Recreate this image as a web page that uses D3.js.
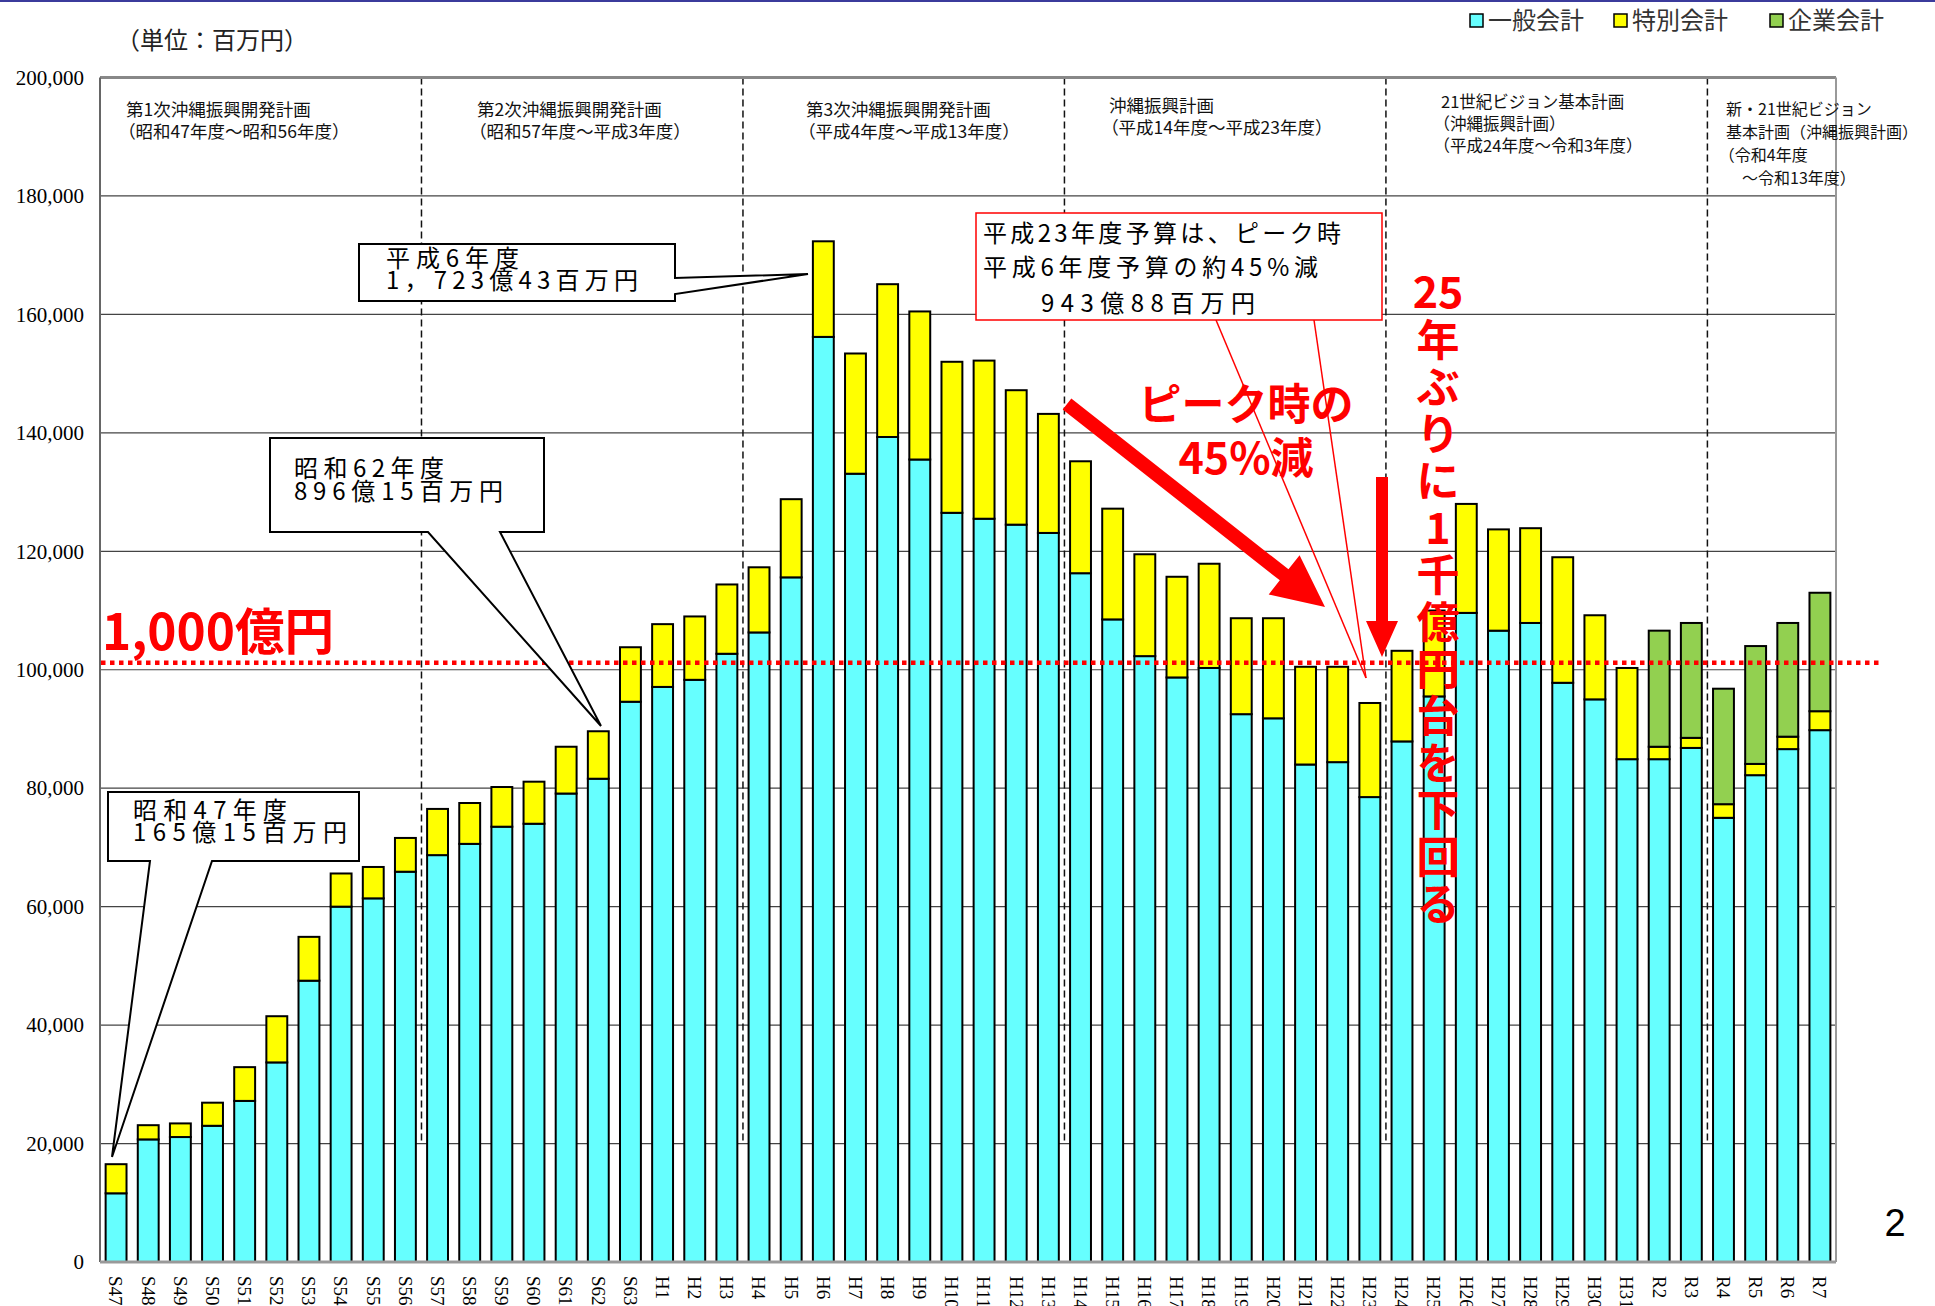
<!DOCTYPE html>
<html>
<head>
<meta charset="utf-8">
<script src="https://cdn.jsdelivr.net/npm/d3@7/dist/d3.min.js"></script>
<style>
  body { margin: 0; background: #fff; }
  svg { display: block; font-family: "Noto Sans CJK JP", sans-serif; }
</style>
</head>
<body>
<svg id="chart" width="1935" height="1306"></svg>
<script>
// fiscal years (昭和 S / 平成 H / 令和 R)
var years = ['S47','S48','S49','S50','S51','S52','S53','S54','S55','S56','S57','S58','S59','S60','S61','S62','S63',
  'H1','H2','H3','H4','H5','H6','H7','H8','H9','H10','H11','H12','H13','H14','H15','H16','H17','H18','H19','H20',
  'H21','H22','H23','H24','H25','H26','H27','H28','H29','H30','H31',
  'R2','R3','R4','R5','R6','R7'];

// 一般会計 (百万円)
var general = [11600,20700,21100,23000,27200,33700,47500,60000,61400,65900,68700,70600,73500,74000,79100,81600,94600,
  97100,98300,102700,106300,115600,156200,133100,139300,135500,126500,125500,124500,123100,116300,108500,102300,98700,100300,92500,91800,
  84000,84400,78500,87900,95500,109600,106600,107900,97800,95000,84900,
  84900,86800,75000,82200,86600,89800];

// 特別会計 (百万円)
var special = [4915,2400,2300,3900,5700,7800,7400,5600,5300,5700,7800,6900,6700,7100,7900,8015,9200,
  10600,10700,11700,11000,13200,16143,20300,25800,25000,25500,26700,22700,20100,18900,18700,17200,17000,17600,16200,16900,
  16500,16100,15888,15300,14500,18400,17100,16000,21200,14200,15400,
  2100,1700,2300,1900,2100,3200];

// 企業会計 (百万円)
var enterprise = [0,0,0,0,0,0,0,0,0,0,0,0,0,0,0,0,0,
  0,0,0,0,0,0,0,0,0,0,0,0,0,0,0,0,0,0,0,0,
  0,0,0,0,0,0,0,0,0,0,0,
  19600,19400,19500,19900,19200,20000];

var yTicks = [0,20000,40000,60000,80000,100000,120000,140000,160000,180000,200000];
var seriesNames = ['一般会計','特別会計','企業会計'];
var seriesColors = ['#66ffff','#ffff00','#92d050'];

// plan periods: label lines and last year of each period
var planBreaks = ['S56','H3','H13','H23','R3'];
var planTitles = [
  ['第1次沖縄振興開発計画','（昭和47年度～昭和56年度）'],
  ['第2次沖縄振興開発計画','（昭和57年度～平成3年度）'],
  ['第3次沖縄振興開発計画','（平成4年度～平成13年度）'],
  ['沖縄振興計画','（平成14年度～平成23年度）'],
  ['21世紀ビジョン基本計画','（沖縄振興計画）','（平成24年度～令和3年度）'],
  ['新・21世紀ビジョン','基本計画（沖縄振興計画）','（令和4年度','　～令和13年度）']
];

var thresholdValue = 101200;

var svg = d3.select('#chart');
var plotL = 100, plotR = 1836, plotT = 77.5, plotB = 1262;

var x = d3.scaleBand().domain(years).range([plotL, plotR]).paddingInner(0.35).paddingOuter(0.175);
var y = d3.scaleLinear().domain([0, 200000]).range([plotB, plotT]);

// thin blue rule at the very top of the slide
svg.append('line').attr('x1', 0).attr('x2', 1935).attr('y1', 1).attr('y2', 1)
  .attr('stroke', '#3b3b9c').attr('stroke-width', 2);

// gridlines
svg.append('g').selectAll('line')
  .data(yTicks.filter(function(t){ return t > 0 && t < 200000; }))
  .enter().append('line')
  .attr('x1', plotL).attr('x2', plotR)
  .attr('y1', function(d){ return y(d); }).attr('y2', function(d){ return y(d); })
  .attr('stroke', '#444').attr('stroke-width', 1.2);

// plan boundaries (dashed)
function breakX(yr){
  return x(yr) + x.bandwidth() + (x.step() - x.bandwidth()) / 2;
}
svg.append('g').selectAll('line')
  .data(planBreaks).enter().append('line')
  .attr('x1', breakX).attr('x2', breakX)
  .attr('y1', y(200000)).attr('y2', y(20000))
  .attr('stroke', '#111').attr('stroke-width', 1.5).attr('stroke-dasharray', '7 4');

// y axis labels
var yAxis = d3.axisLeft(y).tickValues(yTicks).tickFormat(d3.format(',')).tickSize(0).tickPadding(16);
var gy = svg.append('g').attr('transform', 'translate(' + plotL + ',0)').call(yAxis);
gy.select('.domain').remove();
gy.selectAll('text').attr('font-family', '"Liberation Serif", serif').attr('font-size', 21).attr('fill', '#000');

// stacked bars
var rows = years.map(function(yr, i){
  return { year: yr, g: general[i], s: special[i], e: enterprise[i] };
});
var stack = d3.stack().keys(['g','s','e']);
var layers = stack(rows);

svg.append('g').selectAll('g')
  .data(layers).enter().append('g')
  .attr('fill', function(d, i){ return seriesColors[i]; })
  .selectAll('rect')
  .data(function(d){ return d.filter(function(v){ return v[1] - v[0] > 0; }); })
  .enter().append('rect')
  .attr('x', function(d){ return x(d.data.year); })
  .attr('width', x.bandwidth())
  .attr('y', function(d){ return y(d[1]); })
  .attr('height', function(d){ return y(d[0]) - y(d[1]); })
  .attr('stroke', '#000').attr('stroke-width', 2);

// frame
svg.append('line').attr('x1', plotL).attr('x2', plotR).attr('y1', plotT).attr('y2', plotT)
  .attr('stroke', '#888').attr('stroke-width', 3);
svg.append('line').attr('x1', plotL).attr('x2', plotL).attr('y1', plotT).attr('y2', plotB)
  .attr('stroke', '#666').attr('stroke-width', 2);
svg.append('line').attr('x1', plotR).attr('x2', plotR).attr('y1', plotT).attr('y2', plotB)
  .attr('stroke', '#999').attr('stroke-width', 2);
svg.append('line').attr('x1', plotL).attr('x2', plotR).attr('y1', plotB).attr('y2', plotB)
  .attr('stroke', '#999').attr('stroke-width', 3);

// x labels, rotated
svg.append('g').selectAll('text')
  .data(years).enter().append('text')
  .attr('transform', function(d){ return 'translate(' + (x(d) + x.bandwidth() / 2) + ',1276) rotate(90)'; })
  .attr('dy', '0.35em')
  .attr('font-family', '"Liberation Serif", serif').attr('font-size', 19)
  .text(function(d){ return d; });

// unit label
svg.append('text').attr('x', 116).attr('y', 41).attr('dy', '0.35em')
  .attr('font-size', 24).attr('fill', '#222').text('（単位：百万円）');

// plan titles
var planPos = [
  {x: 126, y: 110, fs: 17.5, lh: 22},
  {x: 477, y: 110, fs: 17.5, lh: 22},
  {x: 806, y: 110, fs: 17.5, lh: 22},
  {x: 1109, y: 106, fs: 17.5, lh: 22},
  {x: 1441, y: 102, fs: 16.5, lh: 22},
  {x: 1726, y: 109, fs: 16, lh: 23}
];
planTitles.forEach(function(lines, i){
  var p = planPos[i];
  var t = svg.append('text').attr('font-size', p.fs).attr('fill', '#111');
  lines.forEach(function(line, j){
    // full-width opening paren carries its own left gap, pull it back a little
    var shift = line.charAt(0) === '（' ? -p.fs * 0.45 : 0;
    t.append('tspan').attr('x', p.x + shift).attr('y', p.y + j * p.lh).attr('dy', '0.35em').text(line);
  });
});

// legend
var legendX = [1470, 1614, 1770];
seriesNames.forEach(function(name, i){
  svg.append('rect').attr('x', legendX[i]).attr('y', 14).attr('width', 13).attr('height', 13)
    .attr('fill', seriesColors[i]).attr('stroke', '#000').attr('stroke-width', 1.5);
  svg.append('text').attr('x', legendX[i] + 18).attr('y', 21).attr('dy', '0.35em')
    .attr('font-size', 24).attr('fill', '#333').text(name);
});

// threshold line (1,000億円)
svg.append('line').attr('x1', 101).attr('x2', 1882)
  .attr('y1', y(thresholdValue)).attr('y2', y(thresholdValue))
  .attr('stroke', '#ff0000').attr('stroke-width', 4.5).attr('stroke-dasharray', '4.5 4.5');

svg.append('text').attr('x', 102).attr('y', 650)
  .attr('font-size', 50).attr('font-weight', 'bold').attr('fill', '#ff0000')
  .attr('textLength', 232).attr('lengthAdjust', 'spacingAndGlyphs')
  .text('1,000億円');

// callouts
function callout(path, texts, stroke, sw){
  svg.append('path').attr('d', path).attr('fill', '#fff')
    .attr('stroke', stroke).attr('stroke-width', sw).attr('stroke-linejoin', 'miter');
  texts.forEach(function(t){
    svg.append('text').attr('x', t.x).attr('y', t.y).attr('dy', '0.35em')
      .attr('font-size', t.fs || 24).attr('fill', '#000')
      .attr('textLength', t.w).attr('lengthAdjust', 'spacing')
      .text(t.s);
  });
}

callout('M359,244 H675 V278 L808,274 L675,294 V301 H359 Z', [
  {x: 386, y: 259, w: 133, s: '平成6年度'},
  {x: 386, y: 281, w: 252, s: '1，723億43百万円'}
], '#000', 2);

callout('M270,438 H544 V532 H500 L601,726 L428,532 H270 Z', [
  {x: 294, y: 469, w: 150, s: '昭和62年度'},
  {x: 294, y: 492, w: 209, s: '896億15百万円'}
], '#000', 2);

callout('M108,792 H359 V861 H212 L112,1157 L150,861 H108 Z', [
  {x: 133, y: 811, w: 154, s: '昭和47年度'},
  {x: 133, y: 833, w: 214, s: '165億15百万円'}
], '#000', 2);

// red callout box with open tail
svg.append('line').attr('x1', 1216).attr('y1', 320).attr('x2', 1366).attr('y2', 678)
  .attr('stroke', '#ff0000').attr('stroke-width', 1.5);
svg.append('line').attr('x1', 1314).attr('y1', 320).attr('x2', 1366).attr('y2', 678)
  .attr('stroke', '#ff0000').attr('stroke-width', 1.5);
callout('M976,213 H1382 V320 H976 Z', [
  {x: 983, y: 234, w: 358, s: '平成23年度予算は、ピーク時'},
  {x: 983, y: 268, w: 335, s: '平成6年度予算の約45%減'},
  {x: 1041, y: 304, w: 214, s: '943億88百万円'}
], '#ff0000', 1.5);

// arrows
function arrow(x1, y1, x2, y2, shaftW, headL, headW){
  var dx = x2 - x1, dy = y2 - y1, len = Math.sqrt(dx * dx + dy * dy);
  var ux = dx / len, uy = dy / len, nx = -uy, ny = ux;
  var bx = x2 - ux * headL, by = y2 - uy * headL;
  var pts = [
    [x1 + nx * shaftW / 2, y1 + ny * shaftW / 2],
    [bx + nx * shaftW / 2, by + ny * shaftW / 2],
    [bx + nx * headW / 2, by + ny * headW / 2],
    [x2, y2],
    [bx - nx * headW / 2, by - ny * headW / 2],
    [bx - nx * shaftW / 2, by - ny * shaftW / 2],
    [x1 - nx * shaftW / 2, y1 - ny * shaftW / 2]
  ];
  svg.append('polygon').attr('points', pts.map(function(p){ return p.join(','); }).join(' '))
    .attr('fill', '#ff0000');
}
arrow(1067, 404, 1325, 607, 14, 52, 50);
arrow(1382, 477, 1382, 657, 12, 36, 32);

// red annotation texts
svg.append('text').attr('x', 1246).attr('y', 405).attr('dy', '0.35em').attr('text-anchor', 'middle')
  .attr('font-size', 43).attr('font-weight', 'bold').attr('fill', '#ff0000').text('ピーク時の');
svg.append('text').attr('x', 1246).attr('y', 459).attr('dy', '0.35em').attr('text-anchor', 'middle')
  .attr('font-size', 43).attr('font-weight', 'bold').attr('fill', '#ff0000').text('45%減');

var vertChars = ['年','ぶ','り','に','1','千','億','円','台','を','下','回','る'];
svg.append('text').attr('x', 1438).attr('y', 293).attr('dy', '0.35em').attr('text-anchor', 'middle')
  .attr('font-size', 43).attr('font-weight', 'bold').attr('fill', '#ff0000').text('25');
svg.append('g').selectAll('text')
  .data(vertChars).enter().append('text')
  .attr('x', 1438).attr('y', function(d, i){ return 341 + i * 47; })
  .attr('dy', '0.35em').attr('text-anchor', 'middle')
  .attr('font-size', 43).attr('font-weight', 'bold').attr('fill', '#ff0000')
  .text(function(d){ return d; });

// page number
svg.append('text').attr('x', 1895).attr('y', 1236).attr('text-anchor', 'middle')
  .attr('font-family', '"Liberation Sans", Arial, sans-serif').attr('font-size', 38).text('2');
</script>
</body>
</html>
